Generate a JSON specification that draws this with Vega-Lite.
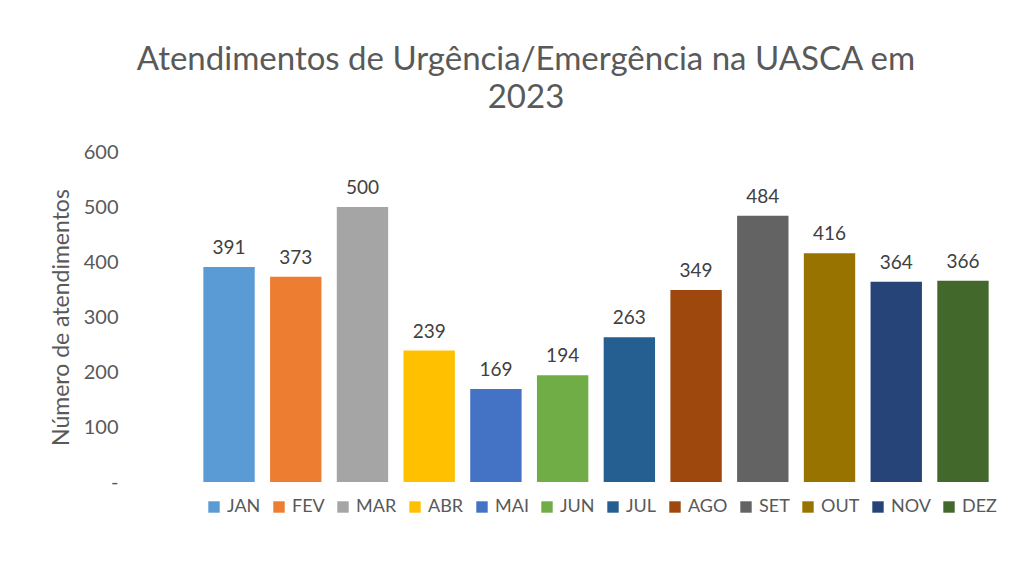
{
  "$schema": "https://vega.github.io/schema/vega-lite/v6.json",
  "width": 812,
  "height": 330,
  "autosize": "none",
  "padding": {"left": 190, "top": 152, "right": 32, "bottom": 79},
  "background": "white",
  "view": {"stroke": null},
  "title": {
    "text": ["Atendimentos de Urgência/Emergência na UASCA em", "2023"],
    "fontSize": 33,
    "lineHeight": 38,
    "font": "Lato",
    "fontWeight": "normal",
    "color": "#595959",
    "anchor": "middle",
    "offset": 27,
    "dx": -70
  },
  "data": {
    "values": [
      {"mes": "JAN", "valor": 391},
      {"mes": "FEV", "valor": 373},
      {"mes": "MAR", "valor": 500},
      {"mes": "ABR", "valor": 239},
      {"mes": "MAI", "valor": 169},
      {"mes": "JUN", "valor": 194},
      {"mes": "JUL", "valor": 263},
      {"mes": "AGO", "valor": 349},
      {"mes": "SET", "valor": 484},
      {"mes": "OUT", "valor": 416},
      {"mes": "NOV", "valor": 364},
      {"mes": "DEZ", "valor": 366}
    ]
  },
  "encoding": {
    "x": {
      "field": "mes",
      "type": "nominal",
      "sort": null,
      "scale": {"paddingInner": 0.23, "paddingOuter": 0.2},
      "axis": null
    },
    "y": {
      "field": "valor",
      "type": "quantitative",
      "scale": {"domain": [0, 600]},
      "axis": {
        "title": "Número de atendimentos",
        "titleFont": "Lato",
        "titleFontSize": 23,
        "titleFontWeight": "normal",
        "titleColor": "#595959",
        "titlePadding": 10,
        "labelFont": "Lato",
        "labelFontSize": 20,
        "labelColor": "#595959",
        "labelPadding": 72,
        "domain": false,
        "ticks": false,
        "grid": false,
        "values": [0, 100, 200, 300, 400, 500, 600],
        "labelExpr": "datum.value == 0 ? '-' : datum.label"
      }
    }
  },
  "layer": [
    {
      "mark": {"type": "bar"},
      "encoding": {
        "color": {
          "field": "mes",
          "type": "nominal",
          "sort": null,
          "scale": {
            "domain": ["JAN", "FEV", "MAR", "ABR", "MAI", "JUN", "JUL", "AGO", "SET", "OUT", "NOV", "DEZ"],
            "range": ["#5B9BD5", "#ED7D31", "#A5A5A5", "#FFC000", "#4472C4", "#70AD47", "#255E91", "#9E480E", "#636363", "#997300", "#264478", "#43682B"]
          },
          "legend": {
            "title": null,
            "orient": "none",
            "direction": "horizontal",
            "legendX": 15,
            "legendY": 346,
            "symbolType": "square",
            "symbolSize": 130,
            "symbolStrokeWidth": 0,
            "labelFont": "Lato",
            "labelFontSize": 18,
            "labelColor": "#595959",
            "columnPadding": 9,
            "labelOffset": 4
          }
        }
      }
    },
    {
      "mark": {"type": "text", "baseline": "bottom", "dy": -9, "font": "Lato", "fontSize": 19, "color": "#404040"},
      "encoding": {"text": {"field": "valor", "type": "quantitative"}}
    }
  ]
}
